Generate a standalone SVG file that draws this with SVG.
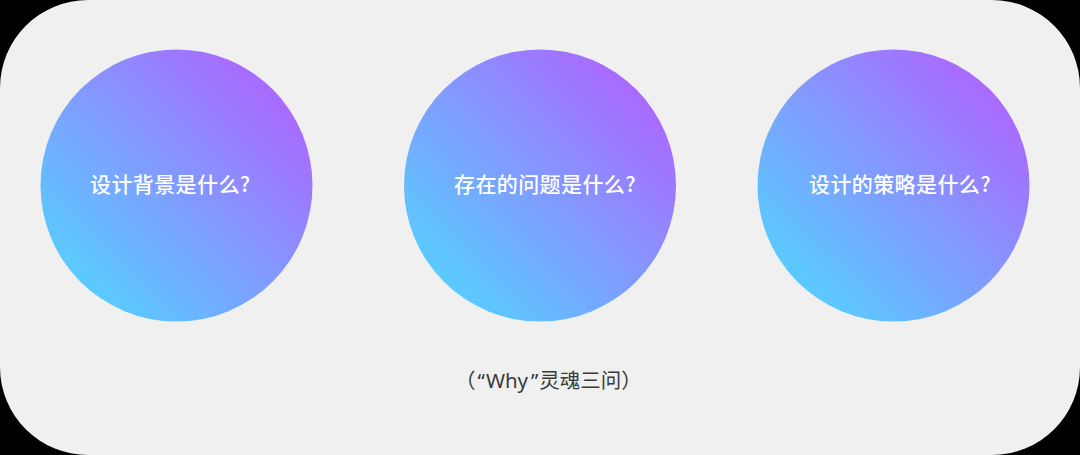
<svg xmlns="http://www.w3.org/2000/svg" width="1080" height="455" viewBox="0 0 1080 455">
  <defs>
    <linearGradient id="g" x1="0.15" y1="0.85" x2="0.85" y2="0.15">
      <stop offset="0" stop-color="#5acaff"/>
      <stop offset="1" stop-color="#a96aff"/>
    </linearGradient>
    <style>
      .c { fill: url(#g); }
      .t { fill: #ffffff; font-family: "Noto Sans CJK SC", "Noto Sans", sans-serif; font-size: 21px; font-weight: 500; letter-spacing: 0.4px; }
      .cap { fill: #3a3a3a; font-family: "Noto Sans", "Noto Sans CJK SC", sans-serif; font-size: 20.5px; }
    </style>
  </defs>
  <rect width="1080" height="455" fill="#000000"/>
  <rect x="0" y="0" width="1080" height="455" rx="88" ry="88" fill="#f0f0f0"/>
  <g id="node1">
    <circle class="c" cx="176.5" cy="185.5" r="136"/>
    <text class="t" x="90" y="192">设计背景是什么?</text>
  </g>
  <g id="node2">
    <circle class="c" cx="540" cy="185.5" r="136"/>
    <text class="t" x="454" y="192">存在的问题是什么?</text>
  </g>
  <g id="node3">
    <circle class="c" cx="893.5" cy="185.5" r="136"/>
    <text class="t" x="809" y="192">设计的策略是什么?</text>
  </g>
  <g id="connectors"></g>
  <g id="caption">
    <text class="cap" x="455" y="388">（<tspan dx="2">“</tspan><tspan dx="1">Why</tspan><tspan dx="2">”</tspan><tspan dx="1">灵魂三问</tspan>）</text>
  </g>
</svg>
